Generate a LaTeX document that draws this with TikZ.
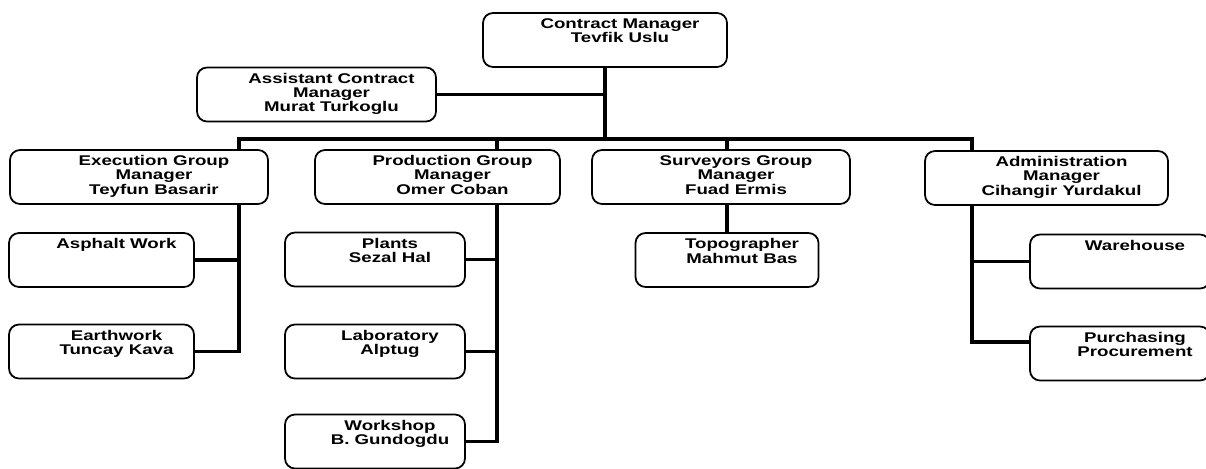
\documentclass[tikz,border=0pt]{standalone}
\usepackage{fontspec}
\setmainfont{Liberation Sans}[FakeStretch=1.33]
\usetikzlibrary{calc}
\def\orgtext#1{\hspace*{0.6cm}\begin{tabular}{@{}c@{}}#1\end{tabular}}
\tikzset{
	orgbox/.style={draw, line width=1pt, rounded corners=0.2cm, inner sep=0pt,
		minimum height=1.08cm, font=\fontsize{8}{8.1}\selectfont\bfseries},
	link/.style={line width=2.2pt}
}

\begin{document}
\begin{tikzpicture}
			%%%%% START %%%%%
			\useasboundingbox (0,0) rectangle (24.12,-9.38);
			
			\node[orgbox, minimum width=4.88cm] (cm) at (12.10,-0.80) {\orgtext{Contract Manager\\Tevfik Uslu\\~}};
			\node[orgbox, minimum width=4.78cm] (asst) at (6.33,-1.89) {\orgtext{Assistant Contract\\Manager\\Murat Turkoglu}};
			
			\node[orgbox, minimum width=5.16cm] (exe) at (2.78,-3.54) {\orgtext{Execution Group\\Manager\\Teyfun Basarir}};
			\node[orgbox, minimum width=4.90cm] (prod) at (8.75,-3.54) {\orgtext{Production Group\\Manager\\Omer Coban}};
			\node[orgbox, minimum width=5.16cm] (sur) at (14.42,-3.54) {\orgtext{Surveyors Group\\Manager\\Fuad Ermis}};
			\node[orgbox, minimum width=4.86cm] (adm) at (20.93,-3.56) {\orgtext{Administration\\Manager\\Cihangir Yurdakul}};
			
			\node[orgbox, minimum width=3.70cm] (asp) at (2.03,-5.20) {\orgtext{Asphalt Work\\~\\~}};
			\node[orgbox, minimum width=3.70cm] (ear) at (2.03,-7.03) {\orgtext{Earthwork\\Tuncay Kava\\~}};
			
			\node[orgbox, minimum width=3.60cm] (pla) at (7.50,-5.19) {\orgtext{Plants\\Sezal Hal\\~}};
			\node[orgbox, minimum width=3.60cm] (lab) at (7.50,-7.03) {\orgtext{Laboratory\\Alptug\\~}};
			\node[orgbox, minimum width=3.60cm] (wor) at (7.50,-8.83) {\orgtext{Workshop\\B. Gundogdu\\~}};
			
			\node[orgbox, minimum width=3.66cm] (top) at (14.54,-5.20) {\orgtext{Topographer\\Mahmut Bas\\~}};
			
			\node[orgbox, minimum width=3.60cm] (war) at (22.40,-5.23) {\orgtext{Warehouse\\~\\~}};
			\node[orgbox, minimum width=3.60cm] (pur) at (22.40,-7.07) {\orgtext{Purchasing\\Procurement\\~}};
			
			% top of the tree
			\coordinate (bus) at (12.10,-2.78);
			\draw[link] (cm) -- (bus);
			\draw[link] (asst) -- (asst -| bus);
			
			% bus down to the groups
			\draw[link] (bus) -| ($(exe.north)+(2.00,0)$);
			\draw[link] (bus) -| ($(prod.north)+(1.19,0)$);
			\draw[link] (bus) -| (top.north |- sur.north);
			\draw[link] (bus) -| ($(adm.north)+(-1.49,0)$);
			
			\draw[link] ($(exe.south)+(2.00,0)$) |- (asp);
			\draw[link] ($(exe.south)+(2.00,0)$) |- (ear);
			
			\draw[link] ($(prod.south)+(1.19,0)$) |- (pla);
			\draw[link] ($(prod.south)+(1.19,0)$) |- (lab);
			\draw[link] ($(prod.south)+(1.19,0)$) |- (wor);
			
			\draw[link] (sur.south -| top.north) -- (top);
			
			\draw[link] ($(adm.south)+(-1.49,0)$) |- (war);
			\draw[link] ($(adm.south)+(-1.49,0)$) |- ($(pur.west)+(0,0.23)$);
			
			%%%%% END %%%%%
\end{tikzpicture}
\end{document}
